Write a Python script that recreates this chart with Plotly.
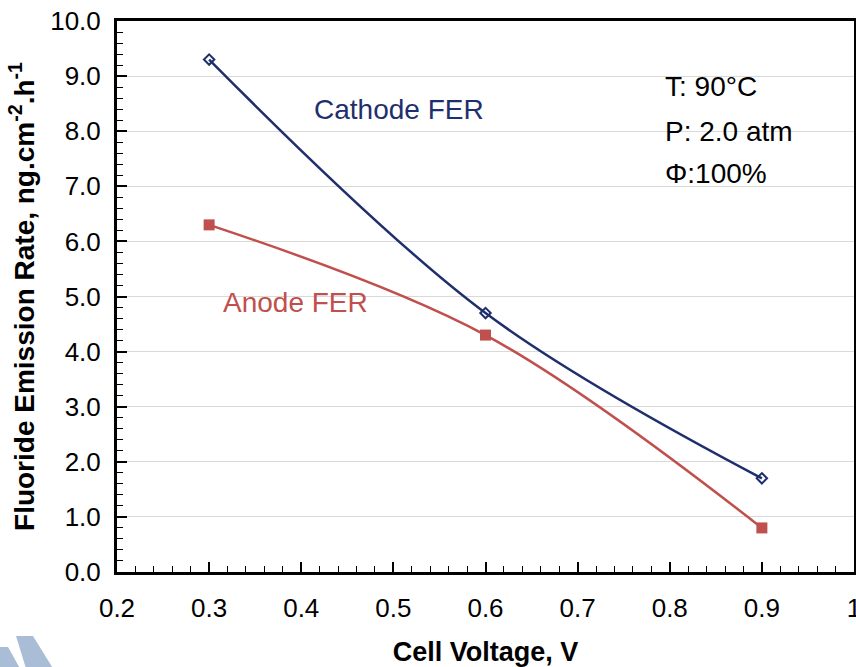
import plotly.graph_objects as go

voltage = [0.3, 0.6, 0.9]
cathode_fer = [9.3, 4.7, 1.7]
anode_fer = [6.3, 4.3, 0.8]

x_ticks = [0.2, 0.3, 0.4, 0.5, 0.6, 0.7, 0.8, 0.9, 1.0]
x_tick_text = ["0.2", "0.3", "0.4", "0.5", "0.6", "0.7", "0.8", "0.9", "1"]
y_ticks = [0, 1, 2, 3, 4, 5, 6, 7, 8, 9, 10]
y_tick_text = [f"{v:.1f}" for v in y_ticks]

navy = "#1F2F6E"
red = "#C0504D"
FONT = "Liberation Sans, Arial, sans-serif"

fig = go.Figure()
fig.add_trace(go.Scatter(
    x=voltage, y=cathode_fer, mode="lines+markers", name="Cathode FER",
    line=dict(color=navy, width=2.5, shape="spline", smoothing=1.0),
    marker=dict(symbol="diamond-open", size=8, color=navy, line=dict(width=2, color=navy)),
))
fig.add_trace(go.Scatter(
    x=voltage, y=anode_fer, mode="lines+markers", name="Anode FER",
    line=dict(color=red, width=2.5, shape="spline", smoothing=1.0),
    marker=dict(symbol="square", size=11, color=red),
))

annos = [
    dict(x=0.412, y=8.4, text="Cathode FER", color=navy),
    dict(x=0.313, y=4.89, text="Anode FER", color=red),
]
for a in annos:
    fig.add_annotation(x=a["x"], y=a["y"], text=a["text"], showarrow=False,
                       xanchor="left", yanchor="middle",
                       font=dict(family=FONT, size=28, color=a["color"]))
for t, yv in zip(["T: 90°C", "P: 2.0 atm", "Φ:100%"], [8.82, 8.0, 7.23]):
    fig.add_annotation(x=0.793, y=yv, text=t, showarrow=False,
                       xanchor="left", yanchor="middle",
                       font=dict(family=FONT, size=28, color="black"))

# decorative watermark bars in bottom-left corner
fig.add_shape(type="path", xref="paper", yref="paper",
              path="M -0.1588 -0.1361 L -0.1479 -0.1361 L -0.1316 -0.175 L -0.1588 -0.175 Z",
              fillcolor="#A9BDD6", line=dict(width=0), layer="below")
fig.add_shape(type="path", xref="paper", yref="paper",
              path="M -0.1370 -0.1162 L -0.1140 -0.1162 L -0.0868 -0.175 L -0.1235 -0.175 Z",
              fillcolor="#A9BDD6", line=dict(width=0), layer="below")

fig.update_layout(
    width=856, height=667,
    margin=dict(l=117, r=2, t=21, b=95),
    paper_bgcolor="white", plot_bgcolor="white",
    showlegend=False,
    font=dict(family=FONT, size=26, color="black"),
    xaxis=dict(
        range=[0.2, 1.0], tickvals=x_ticks, ticktext=x_tick_text,
        ticks="inside", ticklen=10, tickwidth=1.5, tickcolor="black",
        minor=dict(dtick=0.02, ticks="inside", ticklen=6, tickcolor="black", tickwidth=1),
        showline=True, linecolor="black", linewidth=3, mirror=True,
        showgrid=False, zeroline=False, automargin=False,
        tickfont=dict(family=FONT, size=26),
        ticklabelstandoff=11, ticklabeloverflow="allow",
        title=dict(text="<b>Cell Voltage, V</b>", font=dict(family=FONT, size=27), standoff=20),
    ),
    yaxis=dict(
        range=[0, 10], tickvals=y_ticks, ticktext=y_tick_text,
        ticks="inside", ticklen=10, tickwidth=1.5, tickcolor="black",
        minor=dict(dtick=0.2, ticks="inside", ticklen=6, tickcolor="black", tickwidth=1),
        showline=True, linecolor="black", linewidth=3, mirror=True,
        showgrid=True, gridcolor="#D9D9D9", gridwidth=1, zeroline=False, automargin=False,
        tickfont=dict(family=FONT, size=26),
        ticklabelstandoff=8, ticklabeloverflow="allow",
        title=dict(text="<b>Fluoride Emission Rate, ng.cm<sup>-2</sup>.h<sup>-1</sup></b>",
                   font=dict(family=FONT, size=28), standoff=8),
    ),
)

fig.write_html("out.html")
